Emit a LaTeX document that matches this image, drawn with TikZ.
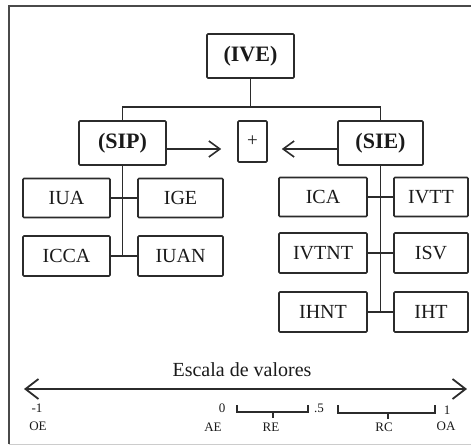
\documentclass[tikz,border=0pt]{standalone}
\usepackage{fontspec}
\setmainfont{Liberation Serif}
\usepackage{xcolor}
\usepackage{tikz}
\usetikzlibrary{arrows.meta, calc}
\definecolor{frameline}{HTML}{4A4A4A}
\definecolor{boxline}{HTML}{2B2B2B}
\definecolor{textmain}{HTML}{1A1A1A}
\tikzstyle{mainbox} = [draw=boxline, line width=1.6pt, rounded corners=1pt, inner sep=0pt, minimum width=87pt, minimum height=44pt, text=textmain, font=\fontsize{22}{24}\selectfont\bfseries]
\tikzstyle{leafbox} = [draw=boxline, line width=1.6pt, rounded corners=1pt, inner sep=0pt, minimum width=87pt, minimum height=39pt, text=textmain, font=\fontsize{20}{22}\selectfont]
\tikzstyle{line} = [line width=1.7pt, color=boxline]
\tikzstyle{arrow} = [line width=1.6pt, color=boxline, -{Straight Barb[length=11pt,width=16pt]}]
\tikzstyle{scaleline} = [line width=1.8pt, color=boxline, {Straight Barb[length=13pt,width=20pt]}-{Straight Barb[length=13pt,width=20pt]}]
\tikzstyle{brace} = [line width=1.4pt, color=boxline]
\tikzstyle{scalelbl} = [inner sep=0pt, text=textmain, font=\fontsize{13}{14}\selectfont]

\begin{document}
\begin{tikzpicture}[x=1pt, y=-1pt]
    \useasboundingbox (0,0) rectangle (471,447);
    \draw[frameline, line width=1.8pt] (480,6) -- (9,6) -- (9,444);
    \draw[gray!40, line width=1pt] (9,444) -- (480,444);

    \node[mainbox] (ive) at (250.5,56) {(IVE)};
    \node[mainbox] (sip) at (122.5,143) {(SIP)};
    \node[mainbox, minimum width=85pt] (sie) at (380.5,143) {(SIE)};
    \node[leafbox, minimum width=29pt, minimum height=41pt, font=\fontsize{19}{20}\selectfont] (plus) at (252.5,141.5) {+};

    \node[leafbox] (iua) at (66.5,198) {IUA};
    \node[leafbox, minimum width=85pt] (ige) at (180.5,198) {IGE};
    \node[leafbox, minimum height=40pt] (icca) at (66.5,256) {ICCA};
    \node[leafbox, minimum width=85pt, minimum height=40pt] (iuan) at (180.5,256) {IUAN};

    \node[leafbox, minimum width=88pt] (ica) at (323,197) {ICA};
    \node[leafbox, minimum width=74pt] (ivtt) at (431,197) {IVTT};
    \node[leafbox, minimum width=88pt, minimum height=40pt] (ivtnt) at (323,253) {IVTNT};
    \node[leafbox, minimum width=74pt, minimum height=40pt] (isv) at (431,253) {ISV};
    \node[leafbox, minimum width=88pt, minimum height=40pt] (ihnt) at (323,312) {IHNT};
    \node[leafbox, minimum width=74pt, minimum height=40pt] (iht) at (431,312) {IHT};

    \coordinate (split) at ($(ive.south)+(0,28)$);
    \draw[line] (ive.south) -- (split);
    \draw[line] (split) -| (sip.north);
    \draw[line] (split) -| (sie.north);

    \draw[arrow, shorten >=16pt] ($(sip.east)+(0,6)$) -- ($(sip.east -| plus.west)+(0,6)$);
    \draw[arrow, shorten >=14pt] ($(sie.west)+(0,6)$) -- ($(sie.west -| plus.east)+(0,6)$);

    \draw[line] (sip.south) -- (sip.south |- icca.east);
    \draw[line] (iua.east) -- (ige.west);
    \draw[line] (icca.east) -- (iuan.west);

    \draw[line] (sie.south) -- (sie.south |- ihnt.east);
    \draw[line] (ica.east) -- (ivtt.west);
    \draw[line] (ivtnt.east) -- (isv.west);
    \draw[line] (ihnt.east) -- (iht.west);

    \node[text=textmain, font=\fontsize{20}{21}\selectfont] (escala) at (242,370) {Escala de valores};
    \coordinate (sleft) at (24,389);
    \coordinate (sright) at (467,389);
    \draw[scaleline] (sleft) -- (sright);

    \draw[brace] (237,405) -- (237,412) -- (308,412) -- (308,405) (273,412) -- (273,418);
    \draw[brace] (338,405) -- (338,413) -- (435,413) -- (435,405) (388,413) -- (388,419);

    \node[scalelbl] (vmin) at (37,408) {-1};
    \node[scalelbl] (oe) at (38,426) {OE};
    \node[scalelbl] (vzero) at (222,408) {0};
    \node[scalelbl] (ae) at (213,427) {AE};
    \node[scalelbl] (re) at (271,427) {RE};
    \node[scalelbl] (vhalf) at (319,408) {.5};
    \node[scalelbl] (rc) at (384,427) {RC};
    \node[scalelbl] (vmax) at (447,410) {1};
    \node[scalelbl] (oa) at (446,426) {OA};
\end{tikzpicture}
\end{document}
